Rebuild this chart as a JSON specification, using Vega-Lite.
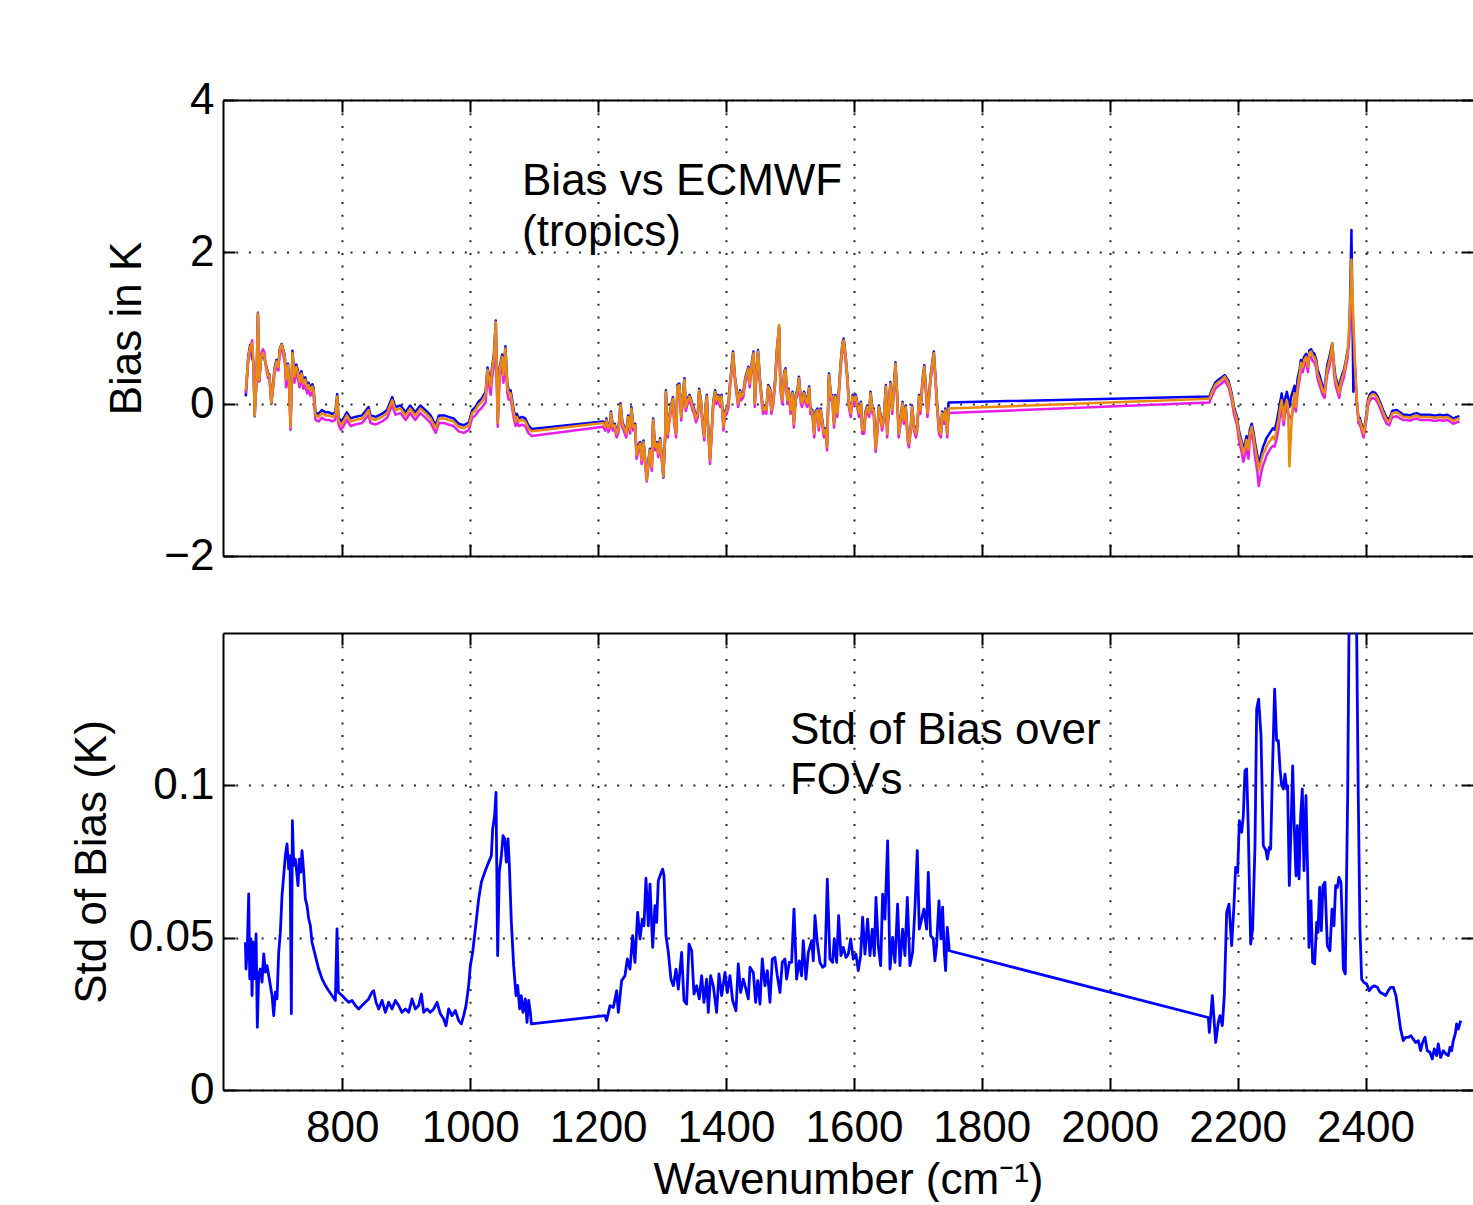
{
"$schema": "https://vega.github.io/schema/vega-lite/v6.json",
"background": "white",
"padding": {"left": 70, "top": 78, "right": 0, "bottom": 0},
"config": {
  "font": "Liberation Sans",
  "view": {"stroke": null},
  "concat": {"spacing": 54},
  "axis": {"domainColor": "black", "domainWidth": 2, "tickColor": "black", "tickWidth": 2, "tickSize": -12,
    "labelFont": "Liberation Sans", "labelFontSize": 44, "labelColor": "black",
    "titleFont": "Liberation Sans", "titleFontSize": 44, "titleFontWeight": "normal", "titleColor": "black",
    "gridColor": "black", "gridDash": [2, 10.7], "gridWidth": 2, "gridOpacity": 0.85},
  "axisX": {"labelPadding": 28, "titlePadding": 8},
  "axisY": {"labelPadding": 21, "titlePadding": 14},
  "text": {"font": "Liberation Sans", "fontSize": 44, "color": "black"}
},
"datasets": {
"bias": [
{"w":649,"b":0.10,"m":0.14,"o":0.18},
{"w":653,"b":0.64,"m":0.58,"o":0.62},
{"w":656,"b":0.78,"m":0.72,"o":0.75},
{"w":659,"b":0.60,"m":0.84,"o":0.80},
{"w":661,"b":0.55,"m":0.50,"o":0.54},
{"w":663,"b":-0.16,"m":-0.10,"o":-0.15},
{"w":666,"b":0.38,"m":0.32,"o":0.36},
{"w":668,"b":1.20,"m":1.15,"o":1.19},
{"w":670,"b":0.30,"m":0.30,"o":0.32},
{"w":673,"b":0.60,"m":0.66,"o":0.62},
{"w":676,"b":0.66,"m":0.72,"o":0.67},
{"w":678,"b":0.60,"m":0.68,"o":0.62},
{"w":681,"b":0.50,"m":0.47,"o":0.49},
{"w":684,"b":0.40,"m":0.34,"o":0.38},
{"w":686,"b":0.39,"m":0.33,"o":0.38},
{"w":689,"b":0.00,"m":0.02,"o":0.01},
{"w":692,"b":0.29,"m":0.22,"o":0.27},
{"w":694,"b":0.47,"m":0.40,"o":0.45},
{"w":697,"b":0.58,"m":0.50,"o":0.56},
{"w":700,"b":0.50,"m":0.44,"o":0.49},
{"w":702,"b":0.72,"m":0.66,"o":0.71},
{"w":705,"b":0.79,"m":0.73,"o":0.78},
{"w":707,"b":0.74,"m":0.68,"o":0.73},
{"w":710,"b":0.64,"m":0.55,"o":0.62},
{"w":712,"b":0.34,"m":0.22,"o":0.32},
{"w":715,"b":0.53,"m":0.42,"o":0.51},
{"w":717,"b":0.30,"m":0.18,"o":0.27},
{"w":719,"b":-0.28,"m":-0.34,"o":-0.30},
{"w":722,"b":0.70,"m":0.60,"o":0.67},
{"w":725,"b":0.38,"m":0.28,"o":0.36},
{"w":728,"b":0.52,"m":0.42,"o":0.49},
{"w":731,"b":0.43,"m":0.32,"o":0.40},
{"w":733,"b":0.32,"m":0.22,"o":0.29},
{"w":736,"b":0.43,"m":0.33,"o":0.40},
{"w":739,"b":0.30,"m":0.20,"o":0.27},
{"w":742,"b":0.35,"m":0.25,"o":0.32},
{"w":745,"b":0.24,"m":0.14,"o":0.21},
{"w":747,"b":0.28,"m":0.18,"o":0.25},
{"w":750,"b":0.21,"m":0.11,"o":0.18},
{"w":753,"b":0.26,"m":0.16,"o":0.23},
{"w":755,"b":0.21,"m":0.11,"o":0.18},
{"w":758,"b":-0.11,"m":-0.21,"o":-0.15},
{"w":763,"b":-0.13,"m":-0.23,"o":-0.17},
{"w":768,"b":-0.08,"m":-0.18,"o":-0.12},
{"w":774,"b":-0.11,"m":-0.21,"o":-0.15},
{"w":779,"b":-0.11,"m":-0.21,"o":-0.15},
{"w":784,"b":-0.13,"m":-0.23,"o":-0.17},
{"w":789,"b":-0.11,"m":-0.21,"o":-0.15},
{"w":792,"b":0.13,"m":0.04,"o":0.10},
{"w":794,"b":-0.17,"m":-0.27,"o":-0.21},
{"w":798,"b":-0.24,"m":-0.34,"o":-0.28},
{"w":802,"b":-0.19,"m":-0.29,"o":-0.23},
{"w":807,"b":-0.11,"m":-0.21,"o":-0.15},
{"w":813,"b":-0.19,"m":-0.29,"o":-0.23},
{"w":820,"b":-0.17,"m":-0.27,"o":-0.21},
{"w":831,"b":-0.15,"m":-0.25,"o":-0.19},
{"w":841,"b":-0.04,"m":-0.14,"o":-0.08},
{"w":844,"b":-0.15,"m":-0.25,"o":-0.19},
{"w":852,"b":-0.17,"m":-0.27,"o":-0.21},
{"w":862,"b":-0.13,"m":-0.23,"o":-0.17},
{"w":870,"b":-0.08,"m":-0.18,"o":-0.12},
{"w":878,"b":0.09,"m":-0.01,"o":0.05},
{"w":883,"b":-0.04,"m":-0.14,"o":-0.08},
{"w":891,"b":-0.02,"m":-0.12,"o":-0.06},
{"w":899,"b":-0.11,"m":-0.21,"o":-0.15},
{"w":906,"b":-0.02,"m":-0.12,"o":-0.06},
{"w":914,"b":-0.11,"m":-0.21,"o":-0.15},
{"w":922,"b":-0.02,"m":-0.12,"o":-0.06},
{"w":930,"b":-0.08,"m":-0.18,"o":-0.12},
{"w":938,"b":-0.15,"m":-0.25,"o":-0.19},
{"w":946,"b":-0.28,"m":-0.38,"o":-0.32},
{"w":951,"b":-0.15,"m":-0.25,"o":-0.19},
{"w":959,"b":-0.15,"m":-0.25,"o":-0.19},
{"w":966,"b":-0.17,"m":-0.27,"o":-0.21},
{"w":974,"b":-0.19,"m":-0.29,"o":-0.23},
{"w":982,"b":-0.26,"m":-0.36,"o":-0.30},
{"w":990,"b":-0.28,"m":-0.38,"o":-0.32},
{"w":998,"b":-0.24,"m":-0.34,"o":-0.28},
{"w":1003,"b":-0.08,"m":-0.18,"o":-0.12},
{"w":1008,"b":-0.04,"m":-0.15,"o":-0.08},
{"w":1013,"b":0.03,"m":-0.09,"o":-0.01},
{"w":1018,"b":0.07,"m":-0.05,"o":0.03},
{"w":1024,"b":0.16,"m":0.02,"o":0.12},
{"w":1027,"b":0.48,"m":0.36,"o":0.45},
{"w":1032,"b":0.27,"m":0.12,"o":0.23},
{"w":1034,"b":0.47,"m":0.32,"o":0.43},
{"w":1037,"b":0.65,"m":0.50,"o":0.62},
{"w":1040,"b":1.10,"m":0.95,"o":1.08},
{"w":1043,"b":-0.22,"m":-0.30,"o":-0.25},
{"w":1046,"b":0.48,"m":0.36,"o":0.45},
{"w":1050,"b":0.65,"m":0.52,"o":0.62},
{"w":1052,"b":0.41,"m":0.28,"o":0.38},
{"w":1055,"b":0.76,"m":0.62,"o":0.73},
{"w":1058,"b":0.27,"m":0.14,"o":0.23},
{"w":1060,"b":0.18,"m":0.06,"o":0.14},
{"w":1063,"b":0.18,"m":0.06,"o":0.14},
{"w":1065,"b":0.09,"m":-0.02,"o":0.05},
{"w":1068,"b":-0.08,"m":-0.18,"o":-0.12},
{"w":1071,"b":-0.19,"m":-0.29,"o":-0.23},
{"w":1073,"b":-0.13,"m":-0.23,"o":-0.17},
{"w":1076,"b":-0.19,"m":-0.29,"o":-0.23},
{"w":1081,"b":-0.17,"m":-0.27,"o":-0.21},
{"w":1086,"b":-0.19,"m":-0.29,"o":-0.23},
{"w":1091,"b":-0.28,"m":-0.38,"o":-0.32},
{"w":1096,"b":-0.33,"m":-0.42,"o":-0.36},
{"w":1208,"b":-0.23,"m":-0.30,"o":-0.25},
{"w":1211,"b":-0.28,"m":-0.35,"o":-0.30},
{"w":1213,"b":-0.19,"m":-0.26,"o":-0.21},
{"w":1216,"b":-0.30,"m":-0.37,"o":-0.32},
{"w":1219,"b":-0.24,"m":-0.31,"o":-0.26},
{"w":1220,"b":-0.10,"m":-0.17,"o":-0.12},
{"w":1223,"b":-0.28,"m":-0.35,"o":-0.30},
{"w":1226,"b":-0.26,"m":-0.33,"o":-0.28},
{"w":1229,"b":-0.37,"m":-0.44,"o":-0.39},
{"w":1232,"b":-0.30,"m":-0.37,"o":-0.32},
{"w":1235,"b":0.01,"m":-0.06,"o":-0.01},
{"w":1238,"b":-0.24,"m":-0.31,"o":-0.26},
{"w":1240,"b":-0.28,"m":-0.35,"o":-0.30},
{"w":1244,"b":-0.37,"m":-0.44,"o":-0.39},
{"w":1247,"b":-0.15,"m":-0.22,"o":-0.17},
{"w":1250,"b":-0.32,"m":-0.39,"o":-0.34},
{"w":1252,"b":-0.04,"m":-0.11,"o":-0.06},
{"w":1255,"b":-0.28,"m":-0.35,"o":-0.30},
{"w":1258,"b":-0.26,"m":-0.33,"o":-0.28},
{"w":1260,"b":-0.65,"m":-0.72,"o":-0.67},
{"w":1263,"b":-0.54,"m":-0.61,"o":-0.56},
{"w":1266,"b":-0.50,"m":-0.57,"o":-0.52},
{"w":1268,"b":-0.72,"m":-0.79,"o":-0.74},
{"w":1271,"b":-0.48,"m":-0.55,"o":-0.50},
{"w":1273,"b":-0.67,"m":-0.74,"o":-0.69},
{"w":1276,"b":-0.98,"m":-1.02,"o":-1.00},
{"w":1279,"b":-0.72,"m":-0.79,"o":-0.74},
{"w":1281,"b":-0.59,"m":-0.66,"o":-0.61},
{"w":1284,"b":-0.81,"m":-0.88,"o":-0.83},
{"w":1286,"b":-0.19,"m":-0.26,"o":-0.21},
{"w":1289,"b":-0.54,"m":-0.61,"o":-0.56},
{"w":1292,"b":-0.50,"m":-0.57,"o":-0.52},
{"w":1294,"b":-0.63,"m":-0.70,"o":-0.65},
{"w":1297,"b":-0.45,"m":-0.52,"o":-0.47},
{"w":1299,"b":-0.63,"m":-0.70,"o":-0.65},
{"w":1302,"b":-0.97,"m":-0.92,"o":-0.96},
{"w":1305,"b":-0.37,"m":-0.44,"o":-0.39},
{"w":1306,"b":0.18,"m":0.11,"o":0.16},
{"w":1309,"b":-0.37,"m":-0.44,"o":-0.39},
{"w":1311,"b":-0.19,"m":-0.26,"o":-0.21},
{"w":1314,"b":-0.02,"m":-0.09,"o":-0.04},
{"w":1317,"b":0.09,"m":0.02,"o":0.07},
{"w":1319,"b":-0.19,"m":-0.26,"o":-0.21},
{"w":1322,"b":-0.37,"m":-0.44,"o":-0.39},
{"w":1324,"b":0.25,"m":0.18,"o":0.23},
{"w":1327,"b":0.27,"m":0.20,"o":0.25},
{"w":1330,"b":-0.15,"m":-0.22,"o":-0.17},
{"w":1332,"b":0.07,"m":0.00,"o":0.05},
{"w":1335,"b":0.34,"m":0.27,"o":0.32},
{"w":1337,"b":-0.02,"m":-0.09,"o":-0.04},
{"w":1340,"b":0.07,"m":0.00,"o":0.05},
{"w":1343,"b":0.12,"m":0.05,"o":0.10},
{"w":1345,"b":0.07,"m":0.00,"o":0.05},
{"w":1348,"b":-0.02,"m":-0.09,"o":-0.04},
{"w":1350,"b":-0.06,"m":-0.13,"o":-0.08},
{"w":1353,"b":-0.17,"m":-0.24,"o":-0.19},
{"w":1356,"b":-0.10,"m":-0.17,"o":-0.12},
{"w":1358,"b":0.20,"m":0.13,"o":0.18},
{"w":1361,"b":0.03,"m":-0.04,"o":0.01},
{"w":1363,"b":-0.19,"m":-0.26,"o":-0.21},
{"w":1366,"b":-0.41,"m":-0.48,"o":-0.43},
{"w":1368,"b":-0.02,"m":-0.09,"o":-0.04},
{"w":1370,"b":0.12,"m":0.05,"o":0.10},
{"w":1372,"b":-0.28,"m":-0.35,"o":-0.30},
{"w":1375,"b":-0.72,"m":-0.79,"o":-0.74},
{"w":1378,"b":-0.28,"m":-0.35,"o":-0.30},
{"w":1380,"b":0.03,"m":-0.04,"o":0.01},
{"w":1383,"b":0.18,"m":0.11,"o":0.16},
{"w":1385,"b":0.07,"m":0.00,"o":0.05},
{"w":1388,"b":0.12,"m":0.05,"o":0.10},
{"w":1391,"b":0.03,"m":-0.04,"o":0.01},
{"w":1393,"b":0.12,"m":0.05,"o":0.10},
{"w":1396,"b":-0.28,"m":-0.35,"o":-0.30},
{"w":1398,"b":-0.10,"m":-0.17,"o":-0.12},
{"w":1401,"b":-0.06,"m":-0.13,"o":-0.08},
{"w":1404,"b":0.03,"m":-0.04,"o":0.01},
{"w":1406,"b":0.25,"m":0.18,"o":0.23},
{"w":1409,"b":0.51,"m":0.44,"o":0.49},
{"w":1411,"b":0.69,"m":0.62,"o":0.67},
{"w":1414,"b":0.36,"m":0.29,"o":0.34},
{"w":1417,"b":0.16,"m":0.09,"o":0.14},
{"w":1419,"b":0.03,"m":-0.04,"o":0.01},
{"w":1422,"b":0.18,"m":0.11,"o":0.16},
{"w":1424,"b":0.12,"m":0.05,"o":0.10},
{"w":1427,"b":0.16,"m":0.09,"o":0.14},
{"w":1430,"b":0.34,"m":0.27,"o":0.32},
{"w":1432,"b":0.40,"m":0.33,"o":0.38},
{"w":1435,"b":0.49,"m":0.42,"o":0.47},
{"w":1437,"b":0.29,"m":0.22,"o":0.27},
{"w":1440,"b":0.53,"m":0.46,"o":0.51},
{"w":1443,"b":0.69,"m":0.62,"o":0.67},
{"w":1445,"b":0.03,"m":-0.04,"o":0.01},
{"w":1448,"b":0.51,"m":0.44,"o":0.49},
{"w":1450,"b":0.71,"m":0.64,"o":0.69},
{"w":1453,"b":0.34,"m":0.27,"o":0.32},
{"w":1456,"b":0.07,"m":0.00,"o":0.05},
{"w":1458,"b":-0.06,"m":-0.13,"o":-0.08},
{"w":1461,"b":-0.02,"m":-0.09,"o":-0.04},
{"w":1463,"b":-0.06,"m":-0.13,"o":-0.08},
{"w":1466,"b":0.25,"m":0.18,"o":0.23},
{"w":1469,"b":0.20,"m":0.13,"o":0.18},
{"w":1471,"b":-0.06,"m":-0.13,"o":-0.08},
{"w":1474,"b":0.07,"m":0.00,"o":0.05},
{"w":1477,"b":0.34,"m":0.27,"o":0.32},
{"w":1479,"b":0.66,"m":0.59,"o":0.64},
{"w":1483,"b":1.02,"m":0.99,"o":1.04},
{"w":1485,"b":0.25,"m":0.18,"o":0.23},
{"w":1488,"b":0.07,"m":0.00,"o":0.05},
{"w":1491,"b":0.42,"m":0.35,"o":0.40},
{"w":1493,"b":0.47,"m":0.40,"o":0.45},
{"w":1496,"b":0.07,"m":0.00,"o":0.05},
{"w":1498,"b":0.20,"m":0.13,"o":0.18},
{"w":1501,"b":-0.06,"m":-0.13,"o":-0.08},
{"w":1504,"b":0.16,"m":0.09,"o":0.14},
{"w":1506,"b":-0.24,"m":-0.31,"o":-0.26},
{"w":1509,"b":0.12,"m":0.05,"o":0.10},
{"w":1512,"b":0.20,"m":0.13,"o":0.18},
{"w":1514,"b":0.36,"m":0.29,"o":0.34},
{"w":1517,"b":0.07,"m":0.00,"o":0.05},
{"w":1519,"b":0.03,"m":-0.04,"o":0.01},
{"w":1522,"b":0.16,"m":0.09,"o":0.14},
{"w":1525,"b":0.07,"m":0.00,"o":0.05},
{"w":1527,"b":0.03,"m":-0.04,"o":0.01},
{"w":1530,"b":0.23,"m":0.16,"o":0.21},
{"w":1532,"b":-0.06,"m":-0.13,"o":-0.08},
{"w":1535,"b":-0.08,"m":-0.15,"o":-0.10},
{"w":1538,"b":-0.37,"m":-0.44,"o":-0.39},
{"w":1540,"b":-0.10,"m":-0.17,"o":-0.12},
{"w":1543,"b":-0.06,"m":-0.13,"o":-0.08},
{"w":1545,"b":-0.28,"m":-0.35,"o":-0.30},
{"w":1548,"b":-0.06,"m":-0.13,"o":-0.08},
{"w":1551,"b":-0.24,"m":-0.31,"o":-0.26},
{"w":1553,"b":-0.37,"m":-0.44,"o":-0.39},
{"w":1556,"b":-0.32,"m":-0.39,"o":-0.34},
{"w":1558,"b":-0.54,"m":-0.61,"o":-0.56},
{"w":1561,"b":0.40,"m":0.33,"o":0.38},
{"w":1564,"b":0.12,"m":0.05,"o":0.10},
{"w":1566,"b":0.12,"m":0.05,"o":0.10},
{"w":1569,"b":-0.24,"m":-0.31,"o":-0.26},
{"w":1571,"b":0.12,"m":0.05,"o":0.10},
{"w":1574,"b":-0.10,"m":-0.17,"o":-0.12},
{"w":1577,"b":0.25,"m":0.18,"o":0.23},
{"w":1579,"b":0.51,"m":0.44,"o":0.49},
{"w":1582,"b":0.80,"m":0.73,"o":0.78},
{"w":1584,"b":0.86,"m":0.79,"o":0.84},
{"w":1587,"b":0.64,"m":0.57,"o":0.62},
{"w":1590,"b":0.34,"m":0.27,"o":0.32},
{"w":1592,"b":0.03,"m":-0.04,"o":0.01},
{"w":1595,"b":-0.10,"m":-0.17,"o":-0.12},
{"w":1598,"b":0.12,"m":0.05,"o":0.10},
{"w":1600,"b":0.07,"m":0.00,"o":0.05},
{"w":1603,"b":0.12,"m":0.05,"o":0.10},
{"w":1605,"b":0.03,"m":-0.04,"o":0.01},
{"w":1608,"b":-0.10,"m":-0.17,"o":-0.12},
{"w":1611,"b":0.03,"m":-0.04,"o":0.01},
{"w":1613,"b":-0.32,"m":-0.39,"o":-0.34},
{"w":1616,"b":-0.32,"m":-0.39,"o":-0.34},
{"w":1618,"b":-0.10,"m":-0.17,"o":-0.12},
{"w":1621,"b":-0.02,"m":-0.09,"o":-0.04},
{"w":1624,"b":-0.10,"m":-0.17,"o":-0.12},
{"w":1626,"b":0.16,"m":0.09,"o":0.14},
{"w":1629,"b":-0.06,"m":-0.13,"o":-0.08},
{"w":1631,"b":-0.06,"m":-0.13,"o":-0.08},
{"w":1634,"b":-0.56,"m":-0.63,"o":-0.58},
{"w":1637,"b":-0.28,"m":-0.35,"o":-0.30},
{"w":1639,"b":-0.02,"m":-0.09,"o":-0.04},
{"w":1642,"b":-0.15,"m":-0.22,"o":-0.17},
{"w":1644,"b":-0.28,"m":-0.35,"o":-0.30},
{"w":1647,"b":-0.15,"m":-0.22,"o":-0.17},
{"w":1650,"b":0.25,"m":0.18,"o":0.23},
{"w":1652,"b":-0.37,"m":-0.44,"o":-0.39},
{"w":1655,"b":0.03,"m":-0.04,"o":0.01},
{"w":1657,"b":0.29,"m":0.22,"o":0.27},
{"w":1660,"b":-0.06,"m":-0.13,"o":-0.08},
{"w":1663,"b":0.29,"m":0.22,"o":0.27},
{"w":1665,"b":0.55,"m":0.48,"o":0.53},
{"w":1668,"b":0.07,"m":0.00,"o":0.05},
{"w":1670,"b":-0.37,"m":-0.44,"o":-0.39},
{"w":1673,"b":-0.19,"m":-0.26,"o":-0.21},
{"w":1676,"b":0.03,"m":-0.04,"o":0.01},
{"w":1678,"b":-0.19,"m":-0.26,"o":-0.21},
{"w":1681,"b":-0.02,"m":-0.09,"o":-0.04},
{"w":1684,"b":-0.41,"m":-0.48,"o":-0.43},
{"w":1686,"b":-0.50,"m":-0.57,"o":-0.52},
{"w":1689,"b":-0.28,"m":-0.35,"o":-0.30},
{"w":1691,"b":-0.02,"m":-0.09,"o":-0.04},
{"w":1694,"b":-0.28,"m":-0.35,"o":-0.30},
{"w":1697,"b":-0.37,"m":-0.44,"o":-0.39},
{"w":1699,"b":-0.28,"m":-0.35,"o":-0.30},
{"w":1702,"b":0.12,"m":0.05,"o":0.10},
{"w":1704,"b":-0.06,"m":-0.13,"o":-0.08},
{"w":1707,"b":0.29,"m":0.22,"o":0.27},
{"w":1710,"b":0.51,"m":0.44,"o":0.49},
{"w":1712,"b":0.29,"m":0.22,"o":0.27},
{"w":1715,"b":-0.10,"m":-0.17,"o":-0.12},
{"w":1717,"b":0.07,"m":0.00,"o":0.05},
{"w":1720,"b":0.38,"m":0.31,"o":0.36},
{"w":1723,"b":0.58,"m":0.51,"o":0.56},
{"w":1725,"b":0.69,"m":0.62,"o":0.67},
{"w":1728,"b":0.29,"m":0.22,"o":0.27},
{"w":1730,"b":0.03,"m":-0.04,"o":0.01},
{"w":1733,"b":-0.32,"m":-0.39,"o":-0.34},
{"w":1736,"b":-0.37,"m":-0.44,"o":-0.39},
{"w":1738,"b":-0.10,"m":-0.17,"o":-0.12},
{"w":1741,"b":-0.19,"m":-0.26,"o":-0.21},
{"w":1743,"b":-0.06,"m":-0.13,"o":-0.08},
{"w":1746,"b":-0.37,"m":-0.44,"o":-0.39},
{"w":1748,"b":0.02,"m":-0.12,"o":-0.06},
{"w":2156,"b":0.10,"m":0.02,"o":0.07},
{"w":2159,"b":0.17,"m":0.09,"o":0.14},
{"w":2165,"b":0.28,"m":0.20,"o":0.25},
{"w":2170,"b":0.32,"m":0.24,"o":0.29},
{"w":2175,"b":0.35,"m":0.27,"o":0.32},
{"w":2180,"b":0.38,"m":0.31,"o":0.36},
{"w":2186,"b":0.30,"m":0.22,"o":0.27},
{"w":2191,"b":0.13,"m":0.04,"o":0.10},
{"w":2194,"b":-0.03,"m":-0.12,"o":-0.06},
{"w":2199,"b":-0.17,"m":-0.28,"o":-0.21},
{"w":2202,"b":-0.35,"m":-0.47,"o":-0.39},
{"w":2206,"b":-0.48,"m":-0.62,"o":-0.52},
{"w":2209,"b":-0.60,"m":-0.76,"o":-0.65},
{"w":2212,"b":-0.50,"m":-0.66,"o":-0.56},
{"w":2214,"b":-0.42,"m":-0.56,"o":-0.47},
{"w":2217,"b":-0.55,"m":-0.72,"o":-0.60},
{"w":2219,"b":-0.34,"m":-0.48,"o":-0.39},
{"w":2222,"b":-0.26,"m":-0.38,"o":-0.30},
{"w":2225,"b":-0.38,"m":-0.52,"o":-0.43},
{"w":2227,"b":-0.50,"m":-0.68,"o":-0.56},
{"w":2231,"b":-0.68,"m":-0.90,"o":-0.74},
{"w":2233,"b":-0.80,"m":-1.08,"o":-0.87},
{"w":2237,"b":-0.66,"m":-0.90,"o":-0.74},
{"w":2240,"b":-0.56,"m":-0.80,"o":-0.65},
{"w":2243,"b":-0.50,"m":-0.74,"o":-0.61},
{"w":2245,"b":-0.45,"m":-0.68,"o":-0.56},
{"w":2249,"b":-0.40,"m":-0.62,"o":-0.50},
{"w":2252,"b":-0.36,"m":-0.58,"o":-0.47},
{"w":2255,"b":-0.32,"m":-0.55,"o":-0.43},
{"w":2258,"b":-0.34,"m":-0.56,"o":-0.47},
{"w":2261,"b":-0.24,"m":-0.46,"o":-0.34},
{"w":2264,"b":-0.10,"m":-0.32,"o":-0.21},
{"w":2266,"b":0.00,"m":-0.18,"o":-0.08},
{"w":2269,"b":0.14,"m":-0.06,"o":0.05},
{"w":2272,"b":-0.08,"m":-0.28,"o":-0.21},
{"w":2274,"b":0.06,"m":-0.14,"o":-0.04},
{"w":2277,"b":0.16,"m":-0.04,"o":0.05},
{"w":2279,"b":0.08,"m":-0.12,"o":-0.04},
{"w":2281,"b":-0.04,"m":-0.16,"o":-0.82},
{"w":2284,"b":0.10,"m":-0.20,"o":-0.30},
{"w":2286,"b":0.16,"m":-0.10,"o":-0.04},
{"w":2289,"b":0.24,"m":0.06,"o":0.14},
{"w":2291,"b":0.10,"m":-0.10,"o":-0.04},
{"w":2294,"b":0.34,"m":0.16,"o":0.23},
{"w":2297,"b":0.46,"m":0.32,"o":0.40},
{"w":2299,"b":0.58,"m":0.46,"o":0.54},
{"w":2302,"b":0.55,"m":0.42,"o":0.49},
{"w":2304,"b":0.62,"m":0.50,"o":0.58},
{"w":2307,"b":0.66,"m":0.55,"o":0.62},
{"w":2310,"b":0.55,"m":0.42,"o":0.49},
{"w":2312,"b":0.70,"m":0.60,"o":0.67},
{"w":2315,"b":0.72,"m":0.62,"o":0.69},
{"w":2317,"b":0.68,"m":0.57,"o":0.64},
{"w":2320,"b":0.66,"m":0.55,"o":0.62},
{"w":2323,"b":0.58,"m":0.47,"o":0.54},
{"w":2325,"b":0.46,"m":0.33,"o":0.40},
{"w":2328,"b":0.38,"m":0.25,"o":0.32},
{"w":2330,"b":0.32,"m":0.20,"o":0.27},
{"w":2333,"b":0.24,"m":0.12,"o":0.18},
{"w":2336,"b":0.20,"m":0.08,"o":0.14},
{"w":2338,"b":0.36,"m":0.25,"o":0.32},
{"w":2340,"b":0.50,"m":0.38,"o":0.45},
{"w":2343,"b":0.60,"m":0.47,"o":0.54},
{"w":2346,"b":0.72,"m":0.60,"o":0.67},
{"w":2348,"b":0.80,"m":0.74,"o":0.80},
{"w":2351,"b":0.50,"m":0.38,"o":0.45},
{"w":2353,"b":0.36,"m":0.25,"o":0.32},
{"w":2356,"b":0.28,"m":0.16,"o":0.23},
{"w":2359,"b":0.20,"m":0.08,"o":0.14},
{"w":2361,"b":0.32,"m":0.20,"o":0.27},
{"w":2364,"b":0.40,"m":0.30,"o":0.36},
{"w":2366,"b":0.44,"m":0.34,"o":0.40},
{"w":2369,"b":0.56,"m":0.48,"o":0.54},
{"w":2372,"b":0.70,"m":0.60,"o":0.67},
{"w":2374,"b":0.80,"m":0.85,"o":0.97},
{"w":2376,"b":1.40,"m":1.10,"o":1.28},
{"w":2378,"b":2.29,"m":1.50,"o":1.90},
{"w":2381,"b":0.16,"m":1.00,"o":1.11},
{"w":2384,"b":0.45,"m":0.40,"o":0.45},
{"w":2386,"b":0.05,"m":0.08,"o":0.10},
{"w":2389,"b":-0.18,"m":-0.26,"o":-0.21},
{"w":2391,"b":-0.18,"m":-0.26,"o":-0.21},
{"w":2394,"b":-0.27,"m":-0.35,"o":-0.30},
{"w":2397,"b":-0.36,"m":-0.44,"o":-0.39},
{"w":2399,"b":-0.27,"m":-0.35,"o":-0.30},
{"w":2402,"b":-0.09,"m":-0.17,"o":-0.12},
{"w":2404,"b":0.06,"m":-0.02,"o":0.03},
{"w":2407,"b":0.13,"m":0.05,"o":0.10},
{"w":2411,"b":0.16,"m":0.08,"o":0.13},
{"w":2415,"b":0.15,"m":0.07,"o":0.12},
{"w":2419,"b":0.10,"m":0.02,"o":0.07},
{"w":2423,"b":0.02,"m":-0.06,"o":-0.01},
{"w":2428,"b":-0.09,"m":-0.17,"o":-0.12},
{"w":2433,"b":-0.18,"m":-0.26,"o":-0.21},
{"w":2437,"b":-0.20,"m":-0.28,"o":-0.23},
{"w":2442,"b":-0.09,"m":-0.17,"o":-0.12},
{"w":2449,"b":-0.08,"m":-0.16,"o":-0.11},
{"w":2454,"b":-0.11,"m":-0.19,"o":-0.14},
{"w":2459,"b":-0.14,"m":-0.21,"o":-0.17},
{"w":2464,"b":-0.14,"m":-0.21,"o":-0.17},
{"w":2470,"b":-0.15,"m":-0.22,"o":-0.18},
{"w":2475,"b":-0.13,"m":-0.20,"o":-0.16},
{"w":2480,"b":-0.12,"m":-0.19,"o":-0.15},
{"w":2485,"b":-0.14,"m":-0.21,"o":-0.17},
{"w":2490,"b":-0.14,"m":-0.21,"o":-0.17},
{"w":2496,"b":-0.14,"m":-0.21,"o":-0.17},
{"w":2501,"b":-0.14,"m":-0.21,"o":-0.17},
{"w":2506,"b":-0.15,"m":-0.22,"o":-0.18},
{"w":2511,"b":-0.15,"m":-0.22,"o":-0.18},
{"w":2516,"b":-0.14,"m":-0.21,"o":-0.17},
{"w":2522,"b":-0.15,"m":-0.22,"o":-0.18},
{"w":2527,"b":-0.14,"m":-0.21,"o":-0.17},
{"w":2532,"b":-0.16,"m":-0.23,"o":-0.19},
{"w":2537,"b":-0.19,"m":-0.26,"o":-0.22},
{"w":2543,"b":-0.17,"m":-0.24,"o":-0.20},
{"w":2547,"b":-0.16,"m":-0.23,"o":-0.19}
],
"std": [
{"w":648.4,"s":0.0485},{"w":649.4,"s":0.0397},{"w":651.5,"s":0.0474},{"w":653.6,"s":0.0644},{"w":655.2,"s":0.0365},
{"w":657.2,"s":0.0496},{"w":658.8,"s":0.0310},{"w":660.9,"s":0.0485},{"w":663.0,"s":0.0365},{"w":665.1,"s":0.0512},
{"w":667.1,"s":0.0206},{"w":669.2,"s":0.0376},{"w":671.8,"s":0.0397},{"w":674.4,"s":0.0354},{"w":677.1,"s":0.0447},
{"w":679.7,"s":0.0387},{"w":682.3,"s":0.0408},{"w":684.9,"s":0.0376},{"w":687.5,"s":0.0343},{"w":690.1,"s":0.0310},
{"w":692.7,"s":0.0244},{"w":695.3,"s":0.0321},{"w":697.9,"s":0.0299},{"w":700.5,"s":0.0452},{"w":703.1,"s":0.0518},
{"w":705.7,"s":0.0638},{"w":708.3,"s":0.0704},{"w":710.9,"s":0.0769},{"w":713.5,"s":0.0808},{"w":716.1,"s":0.0726},
{"w":718.2,"s":0.0769},{"w":720.3,"s":0.0250},{"w":721.9,"s":0.0884},{"w":724.0,"s":0.0737},{"w":726.6,"s":0.0758},
{"w":728.6,"s":0.0715},{"w":730.7,"s":0.0671},{"w":732.8,"s":0.0758},{"w":734.9,"s":0.0715},{"w":737.0,"s":0.0786},
{"w":739.6,"s":0.0715},{"w":742.2,"s":0.0627},{"w":744.8,"s":0.0605},{"w":747.4,"s":0.0562},{"w":750.0,"s":0.0540},
{"w":752.6,"s":0.0485},{"w":757.8,"s":0.0441},{"w":763.0,"s":0.0397},{"w":768.3,"s":0.0365},{"w":773.5,"s":0.0343},
{"w":778.7,"s":0.0326},{"w":783.9,"s":0.0310},{"w":789.1,"s":0.0294},{"w":791.7,"s":0.0529},{"w":793.8,"s":0.0321},
{"w":799.5,"s":0.0310},{"w":804.7,"s":0.0299},{"w":810.0,"s":0.0288},{"w":815.2,"s":0.0294},{"w":820.4,"s":0.0277},
{"w":825.6,"s":0.0266},{"w":830.8,"s":0.0277},{"w":836.0,"s":0.0288},{"w":841.2,"s":0.0299},{"w":846.4,"s":0.0321},
{"w":849.0,"s":0.0326},{"w":852.7,"s":0.0288},{"w":856.9,"s":0.0266},{"w":862.1,"s":0.0294},{"w":867.3,"s":0.0255},
{"w":872.5,"s":0.0288},{"w":877.7,"s":0.0266},{"w":882.9,"s":0.0294},{"w":888.1,"s":0.0277},{"w":893.3,"s":0.0255},
{"w":898.6,"s":0.0266},{"w":903.8,"s":0.0255},{"w":909.0,"s":0.0299},{"w":914.2,"s":0.0266},{"w":919.4,"s":0.0277},
{"w":923.6,"s":0.0315},{"w":927.2,"s":0.0255},{"w":932.4,"s":0.0266},{"w":937.6,"s":0.0255},{"w":942.9,"s":0.0266},
{"w":948.1,"s":0.0288},{"w":953.3,"s":0.0250},{"w":958.5,"s":0.0233},{"w":962.1,"s":0.0211},{"w":966.3,"s":0.0266},
{"w":971.5,"s":0.0244},{"w":976.7,"s":0.0261},{"w":981.9,"s":0.0228},{"w":986.1,"s":0.0217},{"w":989.8,"s":0.0244},
{"w":993.4,"s":0.0277},{"w":997.6,"s":0.0343},{"w":1000.2,"s":0.0408},{"w":1003.8,"s":0.0452},{"w":1008.0,"s":0.0529},
{"w":1013.2,"s":0.0627},{"w":1017.4,"s":0.0682},{"w":1021.0,"s":0.0704},{"w":1024.7,"s":0.0726},{"w":1028.9,"s":0.0748},
{"w":1033.0,"s":0.0769},{"w":1035.1,"s":0.0857},{"w":1038.2,"s":0.0901},{"w":1040.3,"s":0.0977},{"w":1042.9,"s":0.0441},
{"w":1045.5,"s":0.0715},{"w":1048.7,"s":0.0769},{"w":1051.3,"s":0.0835},{"w":1053.9,"s":0.0824},{"w":1056.5,"s":0.0748},
{"w":1059.1,"s":0.0824},{"w":1061.2,"s":0.0737},{"w":1064.3,"s":0.0551},{"w":1067.9,"s":0.0408},{"w":1071.6,"s":0.0310},
{"w":1074.2,"s":0.0343},{"w":1077.3,"s":0.0266},{"w":1079.9,"s":0.0310},{"w":1082.5,"s":0.0255},{"w":1086.2,"s":0.0299},
{"w":1088.8,"s":0.0222},{"w":1091.4,"s":0.0294},{"w":1094.0,"s":0.0255},{"w":1095.6,"s":0.0217},
{"w":1210.7,"s":0.0244},{"w":1213.3,"s":0.0228},{"w":1218.6,"s":0.0277},{"w":1223.8,"s":0.0271},{"w":1229.0,"s":0.0326},
{"w":1231.6,"s":0.0255},{"w":1236.8,"s":0.0359},{"w":1242.0,"s":0.0375},{"w":1245.7,"s":0.0430},{"w":1249.8,"s":0.0397},
{"w":1254.0,"s":0.0507},{"w":1257.6,"s":0.0419},{"w":1261.8,"s":0.0583},{"w":1265.5,"s":0.0496},{"w":1269.1,"s":0.0561},
{"w":1271.7,"s":0.0539},{"w":1274.8,"s":0.0695},{"w":1278.5,"s":0.0539},{"w":1281.1,"s":0.0676},{"w":1285.3,"s":0.0468},
{"w":1288.9,"s":0.0605},{"w":1291.5,"s":0.0550},{"w":1294.1,"s":0.0687},{"w":1297.8,"s":0.0709},{"w":1300.9,"s":0.0725},
{"w":1303.0,"s":0.0703},{"w":1306.1,"s":0.0507},{"w":1309.8,"s":0.0452},{"w":1313.9,"s":0.0364},{"w":1317.6,"s":0.0342},
{"w":1321.8,"s":0.0397},{"w":1325.4,"s":0.0331},{"w":1330.6,"s":0.0452},{"w":1334.3,"s":0.0293},{"w":1338.4,"s":0.0282},
{"w":1342.1,"s":0.0479},{"w":1346.3,"s":0.0457},{"w":1349.9,"s":0.0315},{"w":1354.1,"s":0.0342},{"w":1358.2,"s":0.0299},
{"w":1361.9,"s":0.0375},{"w":1365.5,"s":0.0288},{"w":1369.7,"s":0.0364},{"w":1372.3,"s":0.0255},{"w":1375.9,"s":0.0375},
{"w":1380.1,"s":0.0342},{"w":1385.3,"s":0.0255},{"w":1389.0,"s":0.0381},{"w":1393.2,"s":0.0310},{"w":1398.4,"s":0.0386},
{"w":1402.0,"s":0.0320},{"w":1406.2,"s":0.0375},{"w":1410.4,"s":0.0293},{"w":1415.6,"s":0.0260},{"w":1419.2,"s":0.0414},
{"w":1422.9,"s":0.0320},{"w":1427.0,"s":0.0364},{"w":1431.2,"s":0.0331},{"w":1434.9,"s":0.0299},{"w":1437.5,"s":0.0403},
{"w":1442.7,"s":0.0386},{"w":1446.3,"s":0.0288},{"w":1449.5,"s":0.0359},{"w":1453.1,"s":0.0282},{"w":1456.7,"s":0.0430},
{"w":1460.9,"s":0.0342},{"w":1464.6,"s":0.0392},{"w":1468.7,"s":0.0288},{"w":1472.4,"s":0.0430},{"w":1476.5,"s":0.0435},
{"w":1480.2,"s":0.0375},{"w":1484.4,"s":0.0320},{"w":1488.0,"s":0.0419},{"w":1492.2,"s":0.0430},{"w":1494.8,"s":0.0364},
{"w":1499.0,"s":0.0419},{"w":1502.6,"s":0.0419},{"w":1506.3,"s":0.0594},{"w":1510.4,"s":0.0364},{"w":1514.6,"s":0.0424},
{"w":1518.2,"s":0.0375},{"w":1520.8,"s":0.0490},{"w":1525.0,"s":0.0364},{"w":1528.7,"s":0.0452},{"w":1533.9,"s":0.0490},
{"w":1536.5,"s":0.0424},{"w":1539.1,"s":0.0572},{"w":1542.7,"s":0.0485},{"w":1546.9,"s":0.0419},{"w":1551.1,"s":0.0403},
{"w":1554.7,"s":0.0408},{"w":1558.4,"s":0.0692},{"w":1562.5,"s":0.0430},{"w":1566.7,"s":0.0419},{"w":1569.3,"s":0.0496},
{"w":1573.0,"s":0.0419},{"w":1576.1,"s":0.0572},{"w":1579.7,"s":0.0441},{"w":1583.4,"s":0.0468},{"w":1587.6,"s":0.0435},
{"w":1591.2,"s":0.0446},{"w":1594.9,"s":0.0496},{"w":1599.0,"s":0.0430},{"w":1603.2,"s":0.0446},{"w":1606.8,"s":0.0392},
{"w":1610.5,"s":0.0441},{"w":1613.6,"s":0.0567},{"w":1617.3,"s":0.0446},{"w":1621.4,"s":0.0561},{"w":1625.1,"s":0.0441},
{"w":1628.7,"s":0.0528},{"w":1631.9,"s":0.0441},{"w":1634.5,"s":0.0632},{"w":1638.1,"s":0.0474},{"w":1641.8,"s":0.0408},
{"w":1644.9,"s":0.0643},{"w":1648.5,"s":0.0561},{"w":1652.7,"s":0.0818},{"w":1656.4,"s":0.0397},{"w":1660.5,"s":0.0501},
{"w":1664.2,"s":0.0419},{"w":1668.3,"s":0.0610},{"w":1672.0,"s":0.0408},{"w":1676.2,"s":0.0528},{"w":1679.8,"s":0.0441},
{"w":1683.5,"s":0.0632},{"w":1687.6,"s":0.0408},{"w":1691.8,"s":0.0452},{"w":1695.5,"s":0.0600},{"w":1699.1,"s":0.0786},
{"w":1702.2,"s":0.0528},{"w":1705.9,"s":0.0561},{"w":1709.5,"s":0.0594},{"w":1713.7,"s":0.0528},{"w":1716.3,"s":0.0714},
{"w":1719.9,"s":0.0507},{"w":1724.1,"s":0.0496},{"w":1726.7,"s":0.0424},{"w":1729.3,"s":0.0474},{"w":1733.0,"s":0.0621},
{"w":1736.1,"s":0.0496},{"w":1738.7,"s":0.0600},{"w":1741.3,"s":0.0452},{"w":1743.4,"s":0.0392},{"w":1746.0,"s":0.0534},
{"w":1749.2,"s":0.0457},
{"w":2154.2,"s":0.0238},{"w":2155.8,"s":0.0189},{"w":2160.5,"s":0.0310},{"w":2165.7,"s":0.0156},{"w":2169.8,"s":0.0222},
{"w":2172.4,"s":0.0244},{"w":2176.1,"s":0.0211},{"w":2179.2,"s":0.0310},{"w":2182.9,"s":0.0583},{"w":2186.5,"s":0.0610},
{"w":2190.7,"s":0.0474},{"w":2194.3,"s":0.0605},{"w":2196.9,"s":0.0731},{"w":2200.1,"s":0.0714},{"w":2202.7,"s":0.0884},
{"w":2206.3,"s":0.0846},{"w":2208.9,"s":0.0900},{"w":2211.5,"s":0.1048},{"w":2214.1,"s":0.1054},{"w":2216.7,"s":0.0857},
{"w":2220.4,"s":0.0479},{"w":2223.5,"s":0.0528},{"w":2227.2,"s":0.0802},{"w":2229.8,"s":0.1250},{"w":2232.9,"s":0.1283},
{"w":2236.6,"s":0.1163},{"w":2240.2,"s":0.0802},{"w":2244.4,"s":0.0786},{"w":2246.5,"s":0.0758},{"w":2249.6,"s":0.0797},
{"w":2251.7,"s":0.0791},{"w":2254.8,"s":0.1075},{"w":2257.9,"s":0.1316},{"w":2261.0,"s":0.1147},{"w":2263.7,"s":0.1147},
{"w":2266.3,"s":0.1054},{"w":2268.9,"s":0.0999},{"w":2271.5,"s":0.0988},{"w":2274.1,"s":0.1037},{"w":2276.7,"s":0.0988},
{"w":2278.2,"s":0.0999},{"w":2280.9,"s":0.0671},{"w":2283.5,"s":0.0857},{"w":2286.1,"s":0.1064},{"w":2288.7,"s":0.0857},
{"w":2291.3,"s":0.0703},{"w":2293.4,"s":0.0868},{"w":2296.0,"s":0.0693},{"w":2298.6,"s":0.0900},{"w":2301.2,"s":0.0988},
{"w":2303.8,"s":0.0720},{"w":2306.9,"s":0.0966},{"w":2309.5,"s":0.0714},{"w":2311.6,"s":0.0468},{"w":2314.7,"s":0.0621},
{"w":2317.3,"s":0.0419},{"w":2320.5,"s":0.0414},{"w":2323.6,"s":0.0550},{"w":2325.7,"s":0.0517},{"w":2328.3,"s":0.0665},
{"w":2330.9,"s":0.0523},{"w":2333.5,"s":0.0671},{"w":2336.6,"s":0.0682},{"w":2340.3,"s":0.0474},{"w":2344.4,"s":0.0457},
{"w":2347.6,"s":0.0594},{"w":2350.7,"s":0.0539},{"w":2353.3,"s":0.0671},{"w":2355.9,"s":0.0665},{"w":2358.5,"s":0.0698},
{"w":2361.6,"s":0.0682},{"w":2363.7,"s":0.0550},{"w":2365.3,"s":0.0397},{"w":2368.4,"s":0.0381},{"w":2372.1,"s":0.0966},
{"w":2374.2,"s":0.1513},{"w":2376.5,"s":0.22},{"w":2380.0,"s":0.45},{"w":2384.0,"s":0.25},{"w":2386.1,"s":0.1513},
{"w":2388.7,"s":0.0966},{"w":2391.3,"s":0.0529},{"w":2394.0,"s":0.0364},{"w":2397.6,"s":0.0353},{"w":2401.8,"s":0.0348},
{"w":2405.9,"s":0.0326},{"w":2409.6,"s":0.0337},{"w":2413.8,"s":0.0342},{"w":2418.5,"s":0.0337},{"w":2422.6,"s":0.0321},
{"w":2427.8,"s":0.0315},{"w":2431.5,"s":0.0310},{"w":2435.6,"s":0.0326},{"w":2439.3,"s":0.0337},{"w":2443.5,"s":0.0337},
{"w":2447.6,"s":0.0310},{"w":2451.3,"s":0.0255},{"w":2454.9,"s":0.0200},{"w":2459.1,"s":0.0162},{"w":2462.8,"s":0.0173},
{"w":2466.9,"s":0.0173},{"w":2471.1,"s":0.0178},{"w":2474.7,"s":0.0167},{"w":2478.4,"s":0.0156},{"w":2482.6,"s":0.0162},
{"w":2486.2,"s":0.0129},{"w":2489.3,"s":0.0156},{"w":2493.0,"s":0.0173},{"w":2496.6,"s":0.0129},{"w":2500.8,"s":0.0124},
{"w":2504.4,"s":0.0102},{"w":2507.6,"s":0.0135},{"w":2511.2,"s":0.0113},{"w":2513.8,"s":0.0151},{"w":2517.5,"s":0.0107},
{"w":2521.6,"s":0.0129},{"w":2525.8,"s":0.0118},{"w":2529.5,"s":0.0113},{"w":2532.1,"s":0.0140},{"w":2534.7,"s":0.0129},
{"w":2537.3,"s":0.0162},{"w":2540.4,"s":0.0184},{"w":2542.5,"s":0.0217},{"w":2545.1,"s":0.0200},{"w":2548.8,"s":0.0228}
]
},
"vconcat": [
{
  "width": 1250, "height": 456,
  "layer": [
    {
      "data": {"name": "bias"},
      "transform": [{"fold": ["b", "m", "o"], "as": ["fov", "bias"]}],
      "mark": {"type": "line", "strokeWidth": 2.5, "strokeJoin": "round", "clip": true},
      "encoding": {
        "x": {"field": "w", "type": "quantitative", "scale": {"domain": [613.4, 2568.1], "nice": false, "zero": false},
              "axis": {"orient": "bottom", "values": [800,1000,1200,1400,1600,1800,2000,2200,2400], "labels": false, "title": null, "grid": true}},
        "y": {"field": "bias", "type": "quantitative", "scale": {"domain": [-2, 4], "nice": false, "zero": false},
              "axis": {"orient": "left", "values": [-2, 0, 2, 4], "format": "~g", "title": "Bias in K", "grid": true}},
        "color": {"field": "fov", "type": "nominal", "scale": {"domain": ["b", "m", "o"], "range": ["#0000ff", "#e81ee8", "#e88a10"]}, "legend": null}
      }
    },
    {
      "data": {"values": [{}]},
      "mark": {"type": "text", "align": "left", "baseline": "alphabetic", "fontSize": 44, "lineHeight": 51, "text": ["Bias vs ECMWF", "(tropics)"]},
      "encoding": {
        "x": {"datum": 1081, "type": "quantitative", "scale": {"domain": [613.4, 2568.1], "nice": false, "zero": false},
              "axis": {"orient": "top", "values": [800,1000,1200,1400,1600,1800,2000,2200,2400], "labels": false, "title": null, "grid": false}},
        "y": {"datum": 2.75, "type": "quantitative", "scale": {"domain": [-2, 4], "nice": false, "zero": false},
              "axis": {"orient": "right", "values": [-2, 0, 2, 4], "labels": false, "title": null, "grid": false, "domain": false}}
      }
    }
  ],
  "resolve": {"axis": {"x": "independent", "y": "independent"}}
},
{
  "width": 1250, "height": 457,
  "layer": [
    {
      "data": {"name": "std"},
      "mark": {"type": "line", "strokeWidth": 2.8, "strokeJoin": "round", "color": "#0000ff", "clip": true},
      "encoding": {
        "x": {"field": "w", "type": "quantitative", "scale": {"domain": [613.4, 2568.1], "nice": false, "zero": false},
              "axis": {"orient": "bottom", "values": [800,1000,1200,1400,1600,1800,2000,2200,2400], "format": "d", "title": "Wavenumber (cm⁻¹)", "grid": true}},
        "y": {"field": "s", "type": "quantitative", "scale": {"domain": [0, 0.15], "nice": false, "zero": false},
              "axis": {"orient": "left", "values": [0, 0.05, 0.1], "format": "~g", "title": "Std of Bias (K)", "grid": true}}
      }
    },
    {
      "data": {"values": [{}]},
      "mark": {"type": "text", "align": "left", "baseline": "alphabetic", "fontSize": 44, "lineHeight": 50, "text": ["Std of Bias over", "FOVs"]},
      "encoding": {
        "x": {"datum": 1500, "type": "quantitative", "scale": {"domain": [613.4, 2568.1], "nice": false, "zero": false},
              "axis": {"orient": "top", "values": [800,1000,1200,1400,1600,1800,2000,2200,2400], "labels": false, "title": null, "grid": false}},
        "y": {"datum": 0.1136, "type": "quantitative", "scale": {"domain": [0, 0.15], "nice": false, "zero": false},
              "axis": {"orient": "right", "values": [0, 0.05, 0.1], "labels": false, "title": null, "grid": false, "domain": false}}
      }
    }
  ],
  "resolve": {"axis": {"x": "independent", "y": "independent"}}
}
]
}
